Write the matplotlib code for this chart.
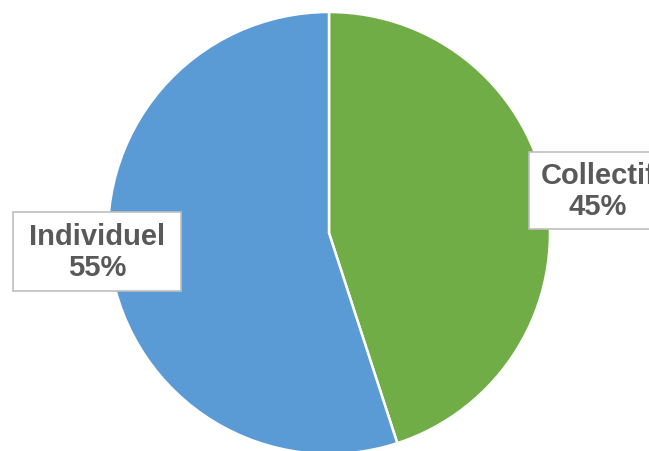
import matplotlib
matplotlib.use("Agg")
import matplotlib.pyplot as plt
from matplotlib.patches import Rectangle

categories = ["Collectif", "Individuel"]
values = [45, 55]
colors = ["#70ad47", "#5b9bd5"]

W, H = 649, 452
fig = plt.figure(figsize=(W / 100, H / 100), dpi=100)
ax = fig.add_axes([0, 0, 1, 1])
ax.set_xlim(0, W)
ax.set_ylim(0, H)
ax.set_aspect("equal")
ax.axis("off")

cx, cy, r = 329, H - 234, 221
ax.pie(values, colors=colors, startangle=90, counterclock=False,
       center=(cx, cy), radius=r, frame=True,
       wedgeprops=dict(edgecolor="white", linewidth=1.8))
ax.set_xlim(0, W)
ax.set_ylim(0, H)
ax.axis("off")

# label boxes (top-left x, top y, width, height in pixel coords from top)
boxes = {"Individuel": (13, 213, 168, 79), "Collectif": (529, 153, 140, 77)}
for cat, val in zip(categories, values):
    bx, by, bw, bh = boxes[cat]
    ax.add_patch(Rectangle((bx, H - by - bh), bw, bh, facecolor="white",
                           edgecolor="#bfbfbf", linewidth=1.2, zorder=5, clip_on=False))
    tx = bx + bw / 2 if cat == "Individuel" else 598
    ty = H - (by + bh / 2)
    ax.text(tx, ty, f"{cat}\n{val}%", ha="center", va="center",
            multialignment="center", fontsize=21, fontweight="bold",
            color="#595959", family=["Liberation Sans", "DejaVu Sans"],
            linespacing=1.15, zorder=6)

fig.savefig("out.png", dpi=100)
